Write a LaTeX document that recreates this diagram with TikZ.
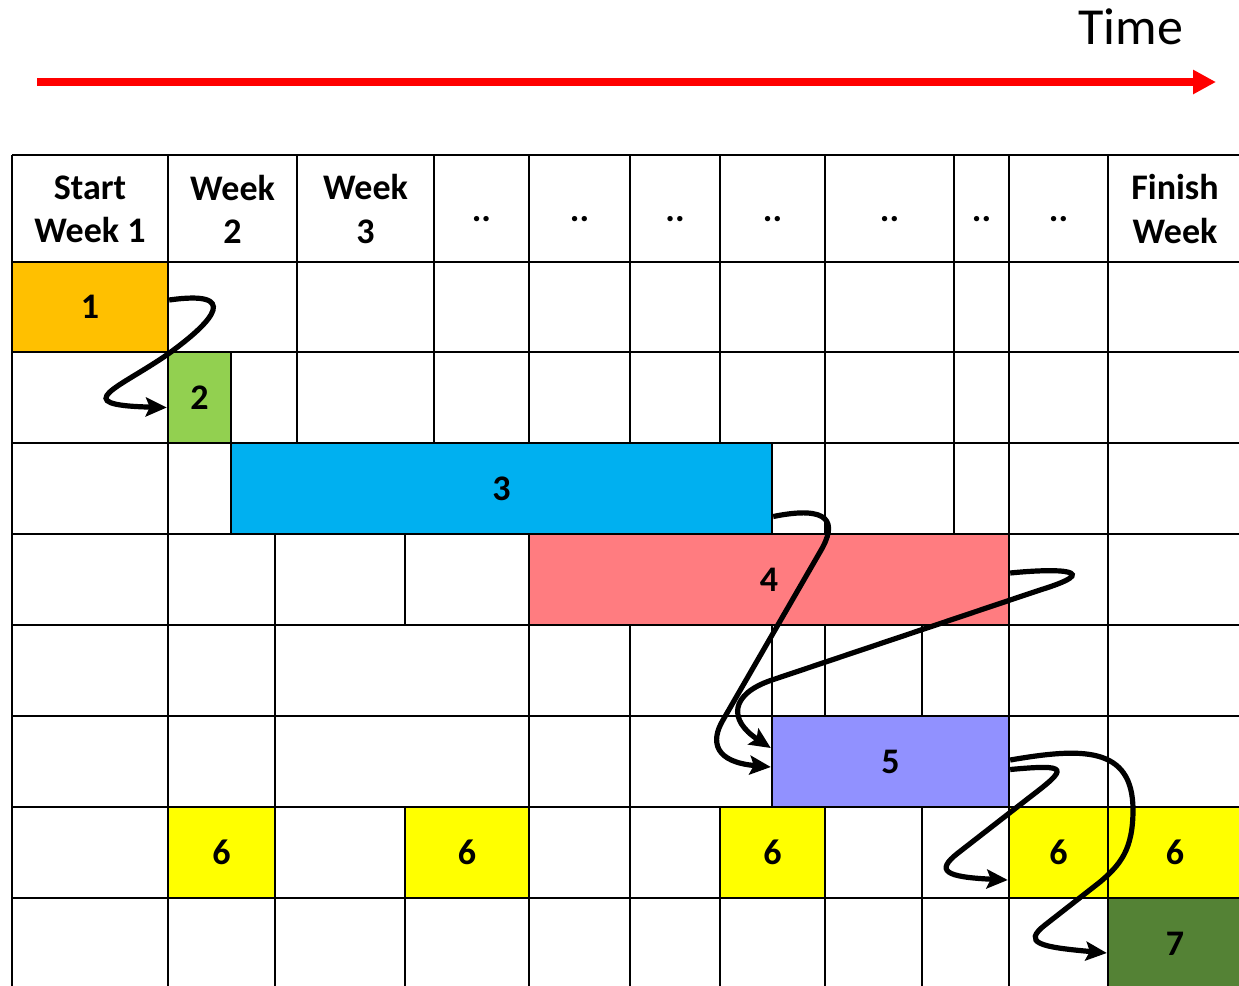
\documentclass[tikz,border=0pt]{standalone}
\usepackage{fontspec}
\setmainfont{Carlito}
\usepackage{xcolor}
\usepackage{tikz}
\usetikzlibrary{arrows.meta,positioning,fit,calc}

\definecolor{taskorange}{HTML}{FFC000}
\definecolor{tasklime}{HTML}{92D050}
\definecolor{taskblue}{HTML}{00B0F0}
\definecolor{taskpink}{HTML}{FF7C80}
\definecolor{taskviolet}{HTML}{9191FF}
\definecolor{taskyellow}{HTML}{FFFF00}
\definecolor{taskolive}{HTML}{548235}

\begin{document}
\begin{tikzpicture}[x=0.5pt, y=-0.5pt,
  gridline/.style={line width=1.2pt, black},
  task/.style={draw, line width=1.2pt, inner sep=0pt},
  tasknum/.style={inner sep=0pt, font=\bfseries\fontsize{18}{21.6}\selectfont},
  head/.style={align=center, font=\bfseries\fontsize{18}{21.6}\selectfont},
  flow/.style={-{Stealth[length=10.5pt, width=9.5pt, inset=2pt]}, line width=2.6pt},
  timearrow/.style={-{Triangle[length=11.5pt, width=11.5pt]}, line width=4pt, red},
]
\useasboundingbox (0,0) rectangle (1239,986);
\clip (0,0) rectangle (1239,986);

\coordinate (tstart) at (37,82);
\coordinate (tend) at (1216,82);
\draw[timearrow] (tstart) -- (tend);
\node[anchor=base, font=\fontsize{26}{31}\selectfont] (time) at (1131,44) {Time};

\node[task, fill=taskorange, fit={(12,262) (168,352)}, label={[tasknum]center:1}] (t1) {};
\node[task, fill=tasklime, fit={(168,352) (231,443)}, label={[tasknum]center:2}] (t2) {};
\node[task, fill=taskblue, fit={(231,443) (772,534)}, label={[tasknum]center:3}] (t3) {};
\node[task, fill=taskpink, fit={(529,534) (1009,625)}, label={[tasknum]center:4}] (t4) {};
\node[task, fill=taskviolet, fit={(772,716) (1009,807)}, label={[tasknum]center:5}] (t5) {};
\node[task, fill=taskyellow, fit={(168,807) (275,898)}, label={[tasknum]center:6}] (t6a) {};
\node[task, fill=taskyellow, fit={(405,807) (529,898)}, label={[tasknum]center:6}] (t6b) {};
\node[task, fill=taskyellow, fit={(720,807) (825,898)}, label={[tasknum]center:6}] (t6c) {};
\node[task, fill=taskyellow, fit={(1009,807) (1108,898)}, label={[tasknum]center:6}] (t6d) {};
\node[task, fill=taskyellow, fit={(1108,807) (1242,898)}, label={[tasknum]center:6}] (t6e) {};
\node[task, fill=taskolive, fit={(1108,898) (1242,990)}, label={[tasknum]center:7}] (t7) {};

\foreach \y in {155,262,352,443,534,625,716,807,898}
  \draw[gridline] (12,\y) -- (1245,\y);
\foreach \ya/\yb/\xs in {
  155/262/{12,168,297,434,529,630,720,825,954,1009,1108},
  262/352/{12,168,297,434,529,630,720,825,954,1009,1108},
  352/443/{12,168,231,297,434,529,630,720,825,954,1009,1108},
  443/534/{12,168,231,772,825,954,1009,1108},
  534/625/{12,168,275,405,529,1009,1108},
  625/716/{12,168,275,529,630,772,825,922,1009,1108},
  716/807/{12,168,275,529,630,772,1009,1108},
  807/898/{12,168,275,405,529,630,720,825,922,1009,1108},
  898/990/{12,168,275,405,529,630,720,825,922,1009,1108}}
  \foreach \x in \xs
    \draw[gridline] (\x,\ya) -- (\x,\yb);

\node[head] (hstart) at (90,209) {Start\\Week 1};
\node[head] (hweek2) at (232.5,209) {Week\\2};
\node[head] (hweek3) at (365.5,209) {Week\\3};
\node[head] (hfinish) at (1175,209) {Finish\\Week};
\foreach \x [count=\i] in {481.5,579.5,675,772.5,889.5,981.5,1058.5}
  \node[head, anchor=base] (hdots\i) at (\x,221) {..};

\draw[flow] ([yshift=3.5pt]t1.east) .. controls (240,290) and (215,320) .. (t1.south east)
  .. controls (120,388) and (65,405) .. ([yshift=-5pt]t2.west);
\draw[flow] ([yshift=-14pt]t3.east) .. controls (830,505) and (838,522) .. (820,552)
  -- (723,720) .. controls (710,742) and (715,762) .. ([yshift=-2.75pt]t5.west);
\draw[flow] ([yshift=3.25pt]t4.east) .. controls (1060,568) and (1105,570) .. (1040,590)
  -- (772,680) .. controls (730,694) and (728,720) .. ([yshift=6.75pt]t5.west);
\draw[flow] ([yshift=-4pt]t5.east) .. controls (1070,764) and (1068,768) .. (1030,797)
  -- (958,853) .. controls (935,871) and (945,877) .. ([yshift=-13.75pt]t6d.west);
\draw[flow] ([yshift=0.75pt]t5.east) .. controls (1080,748) and (1133,745) .. (1133,810)
  .. controls (1133,850) and (1120,865) .. (1100,882)
  -- (1045,925) .. controls (1022,943) and (1040,947) .. ([yshift=-4.5pt]t7.west);

\end{tikzpicture}
\end{document}
